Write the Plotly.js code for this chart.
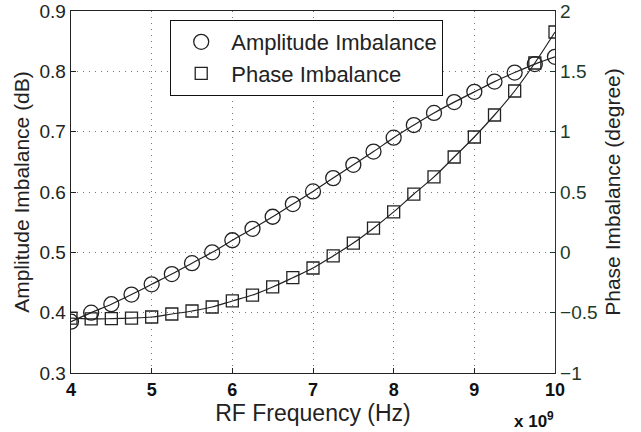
<!DOCTYPE html>
<html>
<head>
<meta charset="utf-8">
<script src="https://cdn.plot.ly/plotly-3.0.1.min.js"></script>
<style>html,body{margin:0;padding:0;background:#fff;}#chart{width:641px;height:432px;}</style>
</head>
<body>
<div id="chart"></div>
<script>
var freq = [4.0,4.25,4.5,4.75,5.0,5.25,5.5,5.75,6.0,6.25,6.5,6.75,7.0,7.25,7.5,7.75,8.0,8.25,8.5,8.75,9.0,9.25,9.5,9.75,10.0].map(function(v){return v*1e9;});
var amplitude = [0.385,0.400,0.414,0.430,0.447,0.464,0.482,0.500,0.520,0.539,0.559,0.580,0.601,0.623,0.645,0.667,0.690,0.711,0.731,0.749,0.766,0.783,0.798,0.812,0.824];
var phase = [-0.545,-0.552,-0.550,-0.545,-0.536,-0.511,-0.486,-0.453,-0.403,-0.354,-0.287,-0.210,-0.130,-0.030,0.077,0.200,0.335,0.483,0.625,0.790,0.956,1.138,1.337,1.569,1.826];
var xTicks = [4e9,5e9,6e9,7e9,8e9,9e9,10e9];
var xTickText = ['4','5','6','7','8','9','10'];
var leftTicks = [0.3,0.4,0.5,0.6,0.7,0.8,0.9];
var leftTickText = ['0.3','0.4','0.5','0.6','0.7','0.8','0.9'];
var rightTicks = [-1,-0.5,0,0.5,1,1.5,2];
var rightTickText = ['\u22121','\u22120.5','0','0.5','1','1.5','2'];

var ink = '#222';
var green = '#1d3a28';
var fnt = 'Liberation Sans, Arial, Helvetica, sans-serif';

var traces = [
  {x: freq, y: amplitude, type: 'scatter', mode: 'lines', line: {color: ink, width: 1.2, shape: 'spline'}, showlegend: false, hoverinfo: 'skip'},
  {x: freq, y: phase, yaxis: 'y2', type: 'scatter', mode: 'lines', line: {color: ink, width: 1.2, shape: 'spline'}, showlegend: false, hoverinfo: 'skip'},
  {x: freq, y: amplitude, type: 'scatter', mode: 'markers', name: 'Amplitude Imbalance',
   marker: {symbol: 'circle-open', size: 15, color: ink, line: {width: 1.3, color: ink}}},
  {x: freq, y: phase, yaxis: 'y2', type: 'scatter', mode: 'markers', name: 'Phase Imbalance',
   marker: {symbol: 'square-open', size: 12, color: ink, line: {width: 1.3, color: ink}}}
];

var layout = {
  width: 641, height: 432,
  margin: {l: 71, r: 86, t: 11, b: 59},
  paper_bgcolor: '#fff', plot_bgcolor: '#fff',
  font: {family: fnt, color: ink, size: 18},
  showlegend: true,
  legend: {x: 0.205, y: 0.975, xanchor: 'left', yanchor: 'top', bgcolor: '#fff', bordercolor: '#111', borderwidth: 1,
           font: {size: 22, family: fnt, color: ink}, itemwidth: 50, tracegroupgap: 0},
  xaxis: {range: [4e9, 10e9], tickvals: xTicks, ticktext: xTickText, ticks: 'inside', ticklen: 5, tickcolor: ink,
          showline: true, linecolor: ink, linewidth: 1.3, mirror: true,
          showgrid: true, gridcolor: '#777', griddash: '1px,5px', gridwidth: 1, zeroline: false,
          tickfont: {size: 18, color: '#111', weight: 'bold'},
          title: {text: 'RF Frequency (Hz)', font: {size: 23, color: ink}, standoff: 0}},
  yaxis: {range: [0.3, 0.9], tickvals: leftTicks, ticktext: leftTickText, ticks: 'inside', ticklen: 5, tickcolor: ink,
          showline: true, linecolor: ink, linewidth: 1.3,
          showgrid: true, gridcolor: '#777', griddash: '1px,5px', gridwidth: 1, zeroline: false,
          tickfont: {size: 19, color: ink},
          title: {text: 'Amplitude Imbalance (dB)', font: {size: 21, color: ink}, standoff: 4}},
  yaxis2: {range: [-1, 2], overlaying: 'y', side: 'right', tickvals: rightTicks, ticktext: rightTickText,
           ticks: 'inside', ticklen: 5, tickcolor: green,
           showline: true, linecolor: green, linewidth: 1.3, showgrid: false, zeroline: false,
           tickfont: {size: 19, color: green},
           title: {text: 'Phase Imbalance (degree)', font: {size: 21, color: ink}, standoff: 8}},
  annotations: [
    {xref: 'paper', yref: 'paper', x: 1.003, y: -0.13, xanchor: 'right', yanchor: 'middle', showarrow: false,
     text: '<b>x 10<sup>9</sup></b>', font: {size: 17, color: '#111', family: fnt}}
  ]
};

Plotly.newPlot('chart', traces, layout, {displayModeBar: false, staticPlot: true});
</script>
</body>
</html>
